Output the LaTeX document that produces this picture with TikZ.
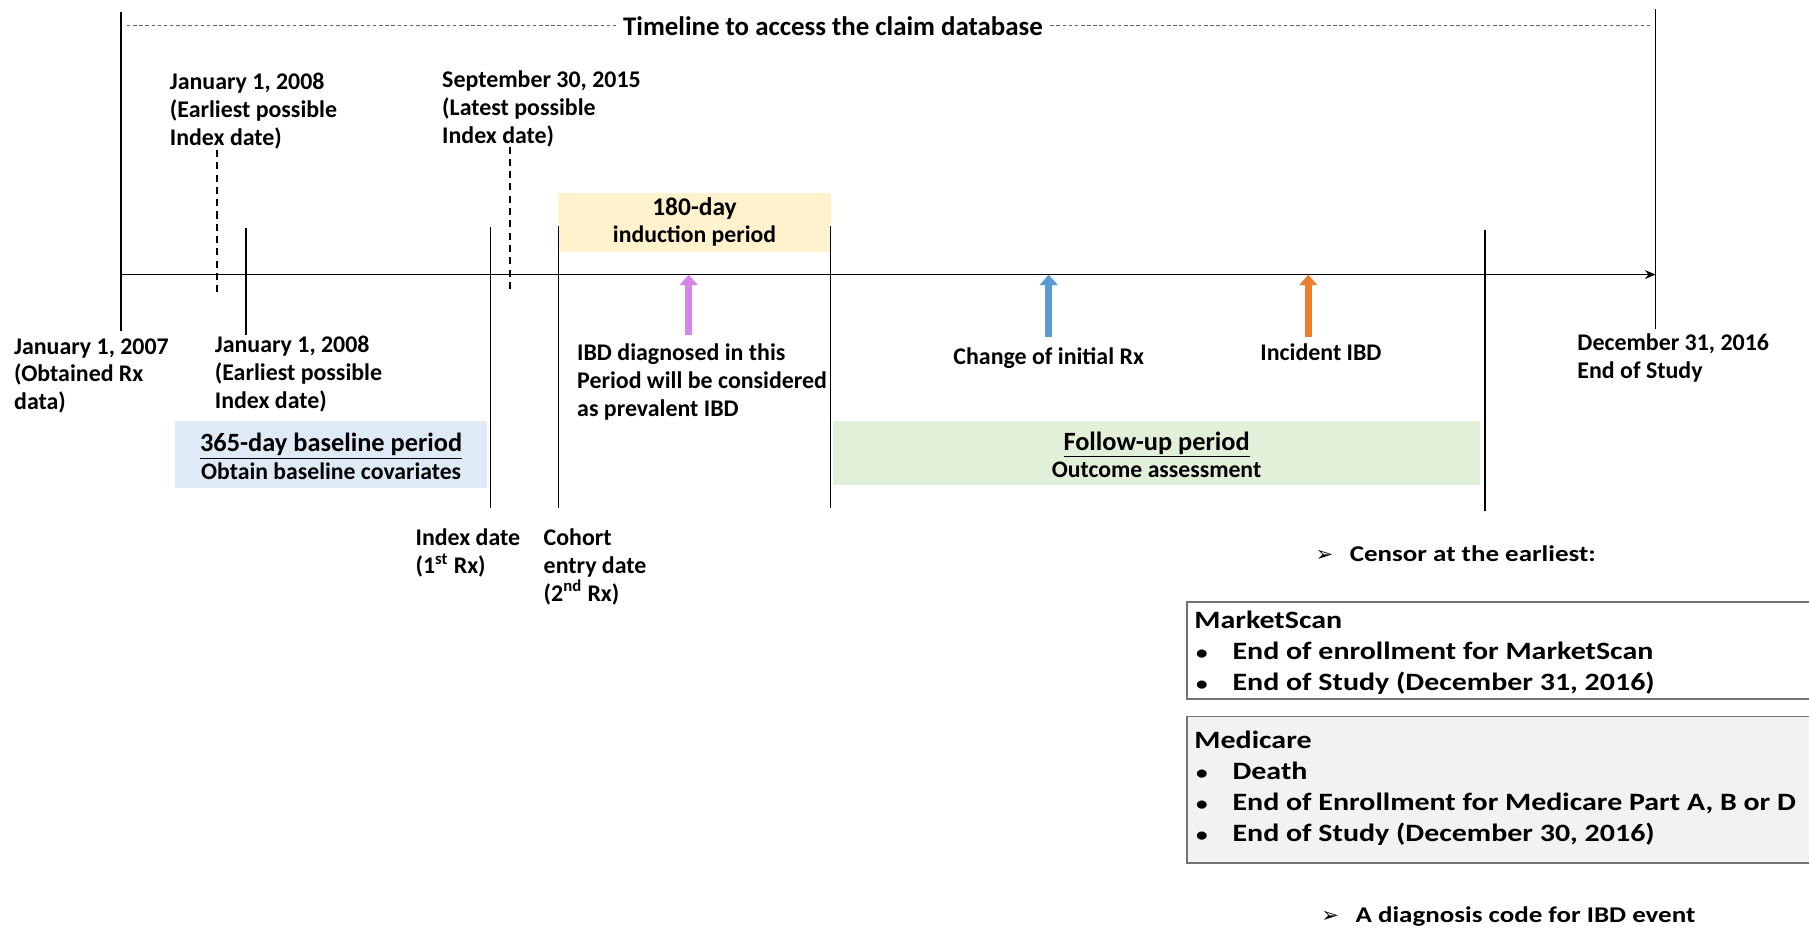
\documentclass[tikz,border=0pt]{standalone}
\usepackage{fontspec}
\setmainfont{Carlito}
\newfontfamily\widefont{Carlito}[FakeStretch=1.2]
\newfontfamily\symfont{DejaVu Sans}
\usetikzlibrary{arrows.meta,fit,positioning}

\definecolor{inducfill}{HTML}{FFF2CC}
\definecolor{basefill}{HTML}{DEEBF7}
\definecolor{followfill}{HTML}{E2F0D9}
\definecolor{medifill}{HTML}{F2F2F2}
\definecolor{prevarrow}{HTML}{D385E8}
\definecolor{changearrow}{HTML}{5B9BD5}
\definecolor{incarrow}{HTML}{ED7D31}

\newcommand{\bul}{\makebox[21.7pt][l]{\hspace{1pt}{\fontsize{11}{11}\selectfont\textbullet}}}
\newcommand{\pointer}{\makebox[19.5pt][l]{\symfont\fontsize{12}{12}\selectfont ➢}}

\tikzset{
    lbl/.style={font=\bfseries\fontsize{13.6}{15.8}\selectfont, align=left, inner sep=0pt, anchor=north west},
    evlbl/.style={font=\bfseries\fontsize{13.6}{15.8}\selectfont, inner sep=0pt, anchor=north},
    period/.style={inner sep=0pt, align=center, font=\bfseries\fontsize{13.5}{15.5}\selectfont},
    tick/.style={line width=0.9pt},
    dtick/.style={line width=0.8pt, dash pattern=on 4pt off 3pt},
    event/.style={line width=4pt, -{Triangle[width=10pt,length=6pt]}},
    censorbox/.style={draw=black!55, line width=0.9pt, inner sep=0pt},
    boxtxt/.style={font=\widefont\bfseries\fontsize{14.2}{17.7}\selectfont, align=left, inner sep=0pt, anchor=north west},
}

\begin{document}
\begin{tikzpicture}[x=2.3074mm,y=-2.3074mm]
    \useasboundingbox (0,0) rectangle (156.8,80.4);

    % period boxes
    \node[inner sep=0pt, fill=inducfill, fit={(48.4,16.7) (72.0,21.8)}] (induc) {};
    \node[inner sep=0pt, fill=basefill, fit={(15.2,36.5) (42.2,42.3)}] (base) {};
    \node[inner sep=0pt, fill=followfill, fit={(72.2,36.5) (128.3,42.0)}] (follow) {};
    \node[period] (inductxt) at (induc.center) {{\fontsize{14.5}{15.5}\selectfont 180-day}\\induction period};
    \node[period] (basetxt) at ([yshift=-1pt]base.center)
        {{\fontsize{15}{16}\selectfont\underline{365-day baseline period}}\\Obtain baseline covariates};
    \node[period] (followtxt) at ([yshift=-1pt]follow.center)
        {{\fontsize{15}{16}\selectfont\underline{Follow-up period}}\\Outcome assessment};

    % timeline
    \coordinate (t0) at (10.5,23.8);
    \coordinate (t1) at (143.5,23.8);
    \draw[line width=1pt, -{Stealth[length=6pt,width=5pt]}] (t0) -- (t1);

    % date marks
    \draw[tick] (10.5,1.0) -- (10.5,28.7);
    \draw[tick] (143.5,0.8) -- (143.5,28.5);
    \draw[tick] (21.3,19.8) -- (21.3,29.0);
    \draw[tick] (42.5,19.7) -- (42.5,44.0);
    \draw[tick] (48.4,19.6) -- (48.4,44.0);
    \draw[tick] (72.0,19.6) -- (72.0,44.0);
    \draw[tick] (128.7,19.9) -- (128.7,44.3);
    \draw[dtick] (18.8,13.0) -- (18.8,25.5);
    \draw[dtick] (44.2,12.7) -- (44.2,25.3);

    % access window
    \node[font=\bfseries\fontsize{15.3}{17}\selectfont, inner sep=0pt] (access) at (72.2,2.3) {Timeline to access the claim database};
    \coordinate (a0) at (11.0,2.2);
    \coordinate (a1) at (143.0,2.2);
    \draw[black!60, line width=0.6pt, dash pattern=on 2pt off 1.5pt] (a0) -- ([xshift=-4pt]access.west |- a0);
    \draw[black!60, line width=0.6pt, dash pattern=on 2pt off 1.5pt] ([xshift=4pt]access.east |- a1) -- (a1);

    % date labels
    \node[lbl] (earlytop) at (14.7,6.3) {January 1, 2008\\(Earliest possible\\Index date)};
    \node[lbl] (latetop) at (38.3,6.1) {September 30, 2015\\(Latest possible\\Index date)};
    \node[lbl] (rxstart) at (1.2,29.3) {January 1, 2007\\(Obtained Rx\\data)};
    \node[lbl] (earlybot) at (18.6,29.1) {January 1, 2008\\(Earliest possible\\Index date)};
    \node[lbl] (studyend) at (136.7,28.9) {December 31, 2016\\End of Study};
    \node[lbl] (index) at (36.0,45.8) {Index date\\(1\textsuperscript{st} Rx)};
    \node[lbl] (cohort) at (47.1,45.8) {Cohort\\entry date\\(2\textsuperscript{nd} Rx)};

    % events
    \node[lbl] (prev) at (50.0,29.8) {IBD diagnosed in this\\Period will be considered\\as prevalent IBD};
    \node[evlbl] (change) at (90.9,30.1) {Change of initial Rx};
    \node[evlbl] (incid) at (114.5,29.8) {Incident IBD};
    \coordinate (pa) at (59.7,29.0);
    \coordinate (ca) at (90.9,29.2);
    \coordinate (ia) at (113.4,29.2);
    \draw[event, prevarrow] (pa) -- (pa |- t0);
    \draw[event, changearrow] (ca) -- (ca |- t0);
    \draw[event, incarrow] (ia) -- (ia |- t0);

    % censoring
    \node[boxtxt, font=\widefont\bfseries\fontsize{12.8}{16}\selectfont] (censor) at (114.0,47.3) {\pointer Censor at the earliest:};
    \node[censorbox, fit={(102.9,52.2) (158.0,60.6)}] (mscanbox) {};
    \node[censorbox, fill=medifill, fit={(102.9,62.1) (158.0,74.8)}] (medibox) {};
    \node[boxtxt] (mscan) at (103.5,52.9)
        {MarketScan\\\bul End of enrollment for MarketScan\\\bul End of Study (December 31, 2016)};
    \node[boxtxt] (medi) at (103.5,63.3)
        {Medicare\\\bul Death\\\bul End of Enrollment for Medicare Part A, B or D\\\bul End of Study (December 30, 2016)};
    \node[boxtxt, font=\widefont\bfseries\fontsize{12.8}{16}\selectfont] (dxcode) at (114.5,78.6) {\pointer A diagnosis code for IBD event};
\end{tikzpicture}
\end{document}
